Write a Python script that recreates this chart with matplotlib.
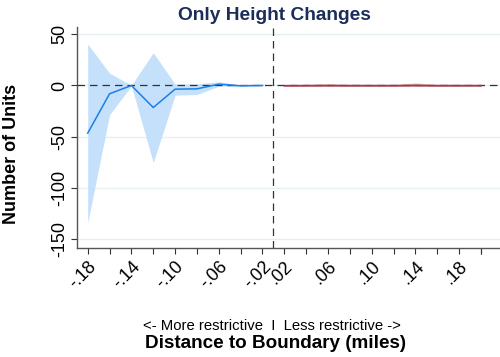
import matplotlib
matplotlib.use("Agg")
import matplotlib.pyplot as plt
import numpy as np

plt.rcParams['font.family'] = ['Liberation Sans', 'DejaVu Sans']

# Distance bins (miles)
neg_dist = [-0.18, -0.16, -0.14, -0.12, -0.10, -0.08, -0.06, -0.04, -0.02]
pos_dist = [0.02, 0.04, 0.06, 0.08, 0.10, 0.12, 0.14, 0.16, 0.18, 0.20]

# More restrictive side (blue)
neg_est = [-46.5, -8.1, 0.0, -21.5, -3.6, -3.3, 1.3, -0.3, 0.0]
neg_hi = [40.4, 12.0, 0.2, 31.9, 1.3, 1.6, 3.6, 0.3, 0.3]
neg_lo = [-133.8, -28.6, -0.3, -75.2, -9.4, -8.8, -0.7, -1.0, -0.3]

# Less restrictive side (red)
pos_est = [-0.3, -0.2, -0.1, -0.2, -0.2, -0.2, 0.0, -0.2, -0.2, -0.2]
pos_hi = [0.5, 0.6, 1.6, 0.6, 0.5, 0.6, 2.6, 0.6, 0.5, 0.4]
pos_lo = [-0.8, -0.9, -1.0, -0.9, -0.8, -0.9, -1.0, -0.9, -0.8, -0.7]

tick_vals = [-0.18, -0.14, -0.10, -0.06, -0.02, 0.02, 0.06, 0.10, 0.14, 0.18]
tick_labels = ['-.18', '-.14', '-.10', '-.06', '-.02', '.02', '.06', '.10', '.14', '.18']


def to_pos(d):
    # Bins are evenly spaced; the two sides meet at the boundary
    if d < 0:
        return round((d + 0.18) / 0.02)
    return round((d - 0.02) / 0.02) + 9


neg_x = [to_pos(d) for d in neg_dist]
pos_x = [to_pos(d) for d in pos_dist]
label_x = [to_pos(d) for d in tick_vals]
minor_x = [to_pos(d) for d in neg_dist + pos_dist]

fig = plt.figure(figsize=(5.0, 3.57), dpi=100)
ax = fig.add_axes([0.154, 0.3053, 0.846, 0.619])

blue = '#1a80e6'
blue_fill = '#c4e0fb'
red = '#a33a48'
red_fill = '#e8c4c8'

ax.fill_between(neg_x, neg_lo, neg_hi, color=blue_fill, lw=0, zorder=2)
ax.plot(neg_x, neg_est, color=blue, lw=1.1, zorder=4)
ax.fill_between(pos_x, pos_lo, pos_hi, color=red_fill, lw=0, zorder=2)
ax.plot(pos_x, pos_est, color=red, lw=1.3, zorder=4)

ax.axhline(0, color='#333333', lw=0.9, ls=(0, (6, 4)), zorder=3)
ax.axvline(8.5, color='#333333', lw=0.9, ls=(0, (6, 4)), zorder=3)

ax.set_xlim(-0.49, 18.87)
ax.set_ylim(-158.5, 57)

ax.set_yticks([50, 0, -50, -100, -150])
ax.set_yticklabels(['50', '0', '-50', '-100', '-150'], rotation=90, va='center', fontsize=13)
ax.yaxis.grid(True, color='#e6eff1', lw=1.0, zorder=0)
ax.set_axisbelow(True)

ax.set_xticks(label_x)
ax.set_xticklabels(tick_labels, rotation=45, ha='right', va='top', rotation_mode='anchor', fontsize=13)
ax.set_xticks(minor_x + [18], minor=True)
ax.tick_params(axis='x', which='both', length=4, width=0.8, color='#333333', pad=3)
ax.tick_params(axis='y', length=4, width=0.8, color='#333333', pad=2)

for s in ['top', 'right']:
    ax.spines[s].set_visible(False)
for s in ['left', 'bottom']:
    ax.spines[s].set_color('#555555')
    ax.spines[s].set_linewidth(1.0)

fig.text(274 / 500, 1 - 15 / 357, 'Only Height Changes', ha='center', va='center',
         fontsize=13.8, fontweight='bold', color='#1c2d5a')
fig.text(12 / 500, 1 - 154 / 357, 'Number of Units', ha='center', va='center',
         rotation=90, fontsize=13, fontweight='bold')
fig.text(272 / 500, 1 - 326 / 357, '<- More restrictive  I  Less restrictive ->', ha='center',
         va='center', fontsize=10.7)
fig.text(276 / 500, 1 - 343 / 357, 'Distance to Boundary (miles)', ha='center', va='center',
         fontsize=13.6, fontweight='bold')

fig.savefig('out.png', dpi=100)
